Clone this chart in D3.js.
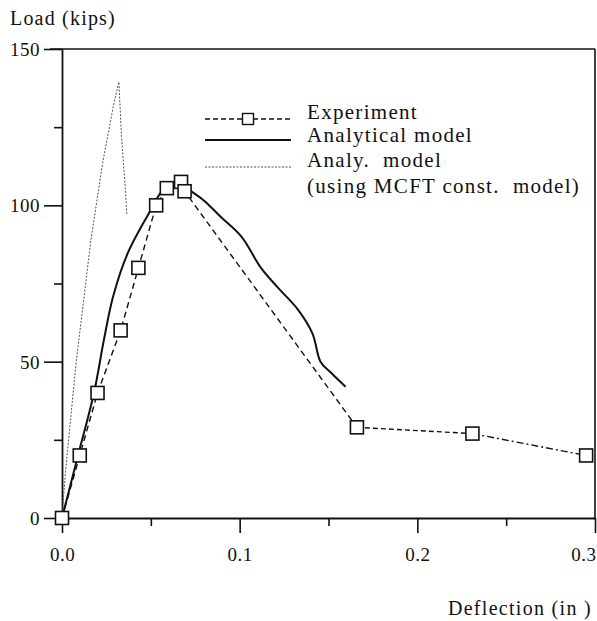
<!DOCTYPE html>
<html>
<head>
<meta charset="utf-8">
<script src="https://cdn.jsdelivr.net/npm/d3@7"></script>
<style>
  body { margin: 0; background: #fff; }
  svg { display: block; }
  svg text { font-family: "Liberation Serif", "DejaVu Serif", "Times New Roman", Times, serif !important; fill: #111; }
</style>
</head>
<body>
<svg id="chart" width="597" height="621"></svg>
<script>
// 数据
const expDefl = [0, 0.010, 0.020, 0.033, 0.043, 0.053, 0.059, 0.067, 0.069, 0.166, 0.231, 0.295];
const expLoad = [0, 20, 40, 60, 80, 100, 105.5, 107.5, 104.5, 29, 27, 20];

const anaDefl = [0, 0.009, 0.018, 0.0236, 0.0287, 0.037, 0.050, 0.057, 0.065, 0.074, 0.080, 0.089, 0.101, 0.112, 0.121, 0.133, 0.141, 0.1455, 0.151, 0.1596];
const anaLoad = [0, 20, 40, 57, 70.7, 84.7, 98.5, 105, 107, 104, 101.5, 96.5, 90, 80, 74, 66.5, 59, 50, 46.7, 42];

const mcftDefl = [0, 0.002, 0.008, 0.0163, 0.023, 0.029, 0.032, 0.0335, 0.0358, 0.0365];
const mcftLoad = [0, 15, 50, 89, 114, 132, 139.5, 122, 104, 97];

const yMajor = [0, 50, 100, 150];
const yMinor = [25, 75, 125];
const xMajor = [0, 0.1, 0.2, 0.3];
const xMinor = [0.05, 0.15, 0.25];

const legendLabels = ["Experiment", "Analytical model", "Analy.  model", "(using MCFT const.  model)"];

const svg = d3.select("#chart");
const serif = '"Liberation Serif", "DejaVu Serif", "Times New Roman", serif';

// 坐标比例尺
const x = d3.scaleLinear().domain([0, 0.3]).range([62, 595]);
const y = d3.scaleLinear().domain([0, 150]).range([518, 49]);

const ink = "#111";

// 顶部和右侧边框
svg.append("line")
    .attr("x1", 50).attr("x2", x(0.3))
    .attr("y1", y(150)).attr("y2", y(150))
    .attr("stroke", ink).attr("stroke-width", 1.6);
svg.append("line")
    .attr("x1", x(0.3)).attr("x2", x(0.3))
    .attr("y1", y(150)).attr("y2", y(0))
    .attr("stroke", ink).attr("stroke-width", 1.6);

// y轴：主刻度 + 次刻度
const yAxisMajor = svg.append("g")
    .attr("transform", `translate(${x(0)},0)`)
    .call(d3.axisLeft(y).tickValues(yMajor).tickSize(18).tickSizeOuter(0).tickPadding(4).tickFormat(d3.format("d")));
const yAxisMinor = svg.append("g")
    .attr("transform", `translate(${x(0)},0)`)
    .call(d3.axisLeft(y).tickValues(yMinor).tickSize(8).tickSizeOuter(0).tickFormat(""));
yAxisMinor.select(".domain").remove();

// x轴：主刻度 + 次刻度
const xAxisMajor = svg.append("g")
    .attr("transform", `translate(0,${y(0)})`)
    .call(d3.axisBottom(x).tickValues(xMajor).tickSize(15).tickSizeOuter(0).tickPadding(6).tickFormat(d3.format(".1f")));
const xAxisMinor = svg.append("g")
    .attr("transform", `translate(0,${y(0)})`)
    .call(d3.axisBottom(x).tickValues(xMinor).tickSize(8).tickSizeOuter(0).tickFormat(""));
xAxisMinor.select(".domain").remove();

[yAxisMajor, yAxisMinor, xAxisMajor, xAxisMinor].forEach(g => {
    g.attr("font-family", null).attr("font-size", null);
    g.selectAll("line").attr("stroke", ink).attr("stroke-width", 1.6);
    g.selectAll(".domain").attr("stroke", ink).attr("stroke-width", 1.8);
    g.selectAll("text")
        .style("font-family", serif)
        .style("font-size", "19px")
        .attr("letter-spacing", "0.5px")
        .attr("fill", ink);
});
yAxisMajor.selectAll("text").attr("dy", "0.35em");
xAxisMajor.selectAll("text").attr("dy", "1.15em");
// 最右侧 0.3 标签贴着右边缘
xAxisMajor.selectAll(".tick").filter(d => d === 0.3).select("text")
    .attr("text-anchor", "end").attr("dx", "1px");

// 坐标轴标题
svg.append("text").attr("x", 10).attr("y", 25)
    .style("font-family", serif).style("font-size", "20px")
    .attr("letter-spacing", "1.2px").text("Load (kips)");
svg.append("text").attr("x", 592).attr("y", 615)
    .style("font-family", serif).style("font-size", "20px")
    .attr("letter-spacing", "1.3px").attr("text-anchor", "end").text("Deflection (in )");

const line = d3.line().x(d => x(d[0])).y(d => y(d[1]));

// MCFT 本构模型曲线（细点线）
const mcftPts = mcftDefl.map((d, i) => [d, mcftLoad[i]]);
svg.append("path")
    .attr("d", line(mcftPts))
    .attr("fill", "none")
    .attr("stroke", "#555")
    .attr("stroke-width", 1)
    .attr("stroke-dasharray", "2,1.5");

// 分析模型（实线）
const anaPts = anaDefl.map((d, i) => [d, anaLoad[i]]);
svg.append("path")
    .attr("d", d3.line().curve(d3.curveCatmullRom.alpha(0.5)).x(d => x(d[0])).y(d => y(d[1]))(anaPts))
    .attr("fill", "none")
    .attr("stroke", ink)
    .attr("stroke-width", 2);

// 试验曲线（虚线，分段样式）
const expPts = expDefl.map((d, i) => [d, expLoad[i]]);
const segments = [
    { pts: expPts.slice(0, 10), dash: "6,4" },
    { pts: expPts.slice(9, 11), dash: "5,3" },
    { pts: expPts.slice(10, 12), dash: "7,3,2,3" }
];
segments.forEach(s => {
    svg.append("path")
        .attr("d", line(s.pts))
        .attr("fill", "none")
        .attr("stroke", ink)
        .attr("stroke-width", 1.4)
        .attr("stroke-dasharray", s.dash);
});

// 试验点（方框）
const sq = 13;
svg.selectAll(".exp-pt")
    .data(expPts)
    .enter().append("rect")
    .attr("class", "exp-pt")
    .attr("x", d => x(d[0]) - sq / 2)
    .attr("y", d => y(d[1]) - sq / 2)
    .attr("width", sq).attr("height", sq)
    .attr("fill", "#fff")
    .attr("stroke", ink)
    .attr("stroke-width", 1.6);

// 图例
const legend = svg.append("g");
const lx0 = 205, lx1 = 291, tx = 307;
const rowY = [112, 135, 160, 186];

legend.append("line").attr("x1", lx0).attr("x2", lx1).attr("y1", 119).attr("y2", 119)
    .attr("stroke", ink).attr("stroke-width", 1.3).attr("stroke-dasharray", "5,3");
legend.append("rect").attr("x", 248 - 5.5).attr("y", 119 - 5.5).attr("width", 11).attr("height", 11)
    .attr("fill", "#fff").attr("stroke", ink).attr("stroke-width", 1.4);
legend.append("line").attr("x1", lx0).attr("x2", lx1).attr("y1", 140).attr("y2", 140)
    .attr("stroke", ink).attr("stroke-width", 2);
legend.append("line").attr("x1", lx0).attr("x2", lx1).attr("y1", 167).attr("y2", 167)
    .attr("stroke", "#555").attr("stroke-width", 1).attr("stroke-dasharray", "2,1.5");

legend.selectAll("text")
    .data(legendLabels)
    .enter().append("text")
    .attr("x", tx)
    .attr("y", (d, i) => rowY[i])
    .attr("dy", "0.35em")
    .style("font-family", serif)
    .style("font-size", "21px")
    .attr("letter-spacing", "1.3px")
    .style("white-space", "pre")
    .text(d => d);
</script>
</body>
</html>
